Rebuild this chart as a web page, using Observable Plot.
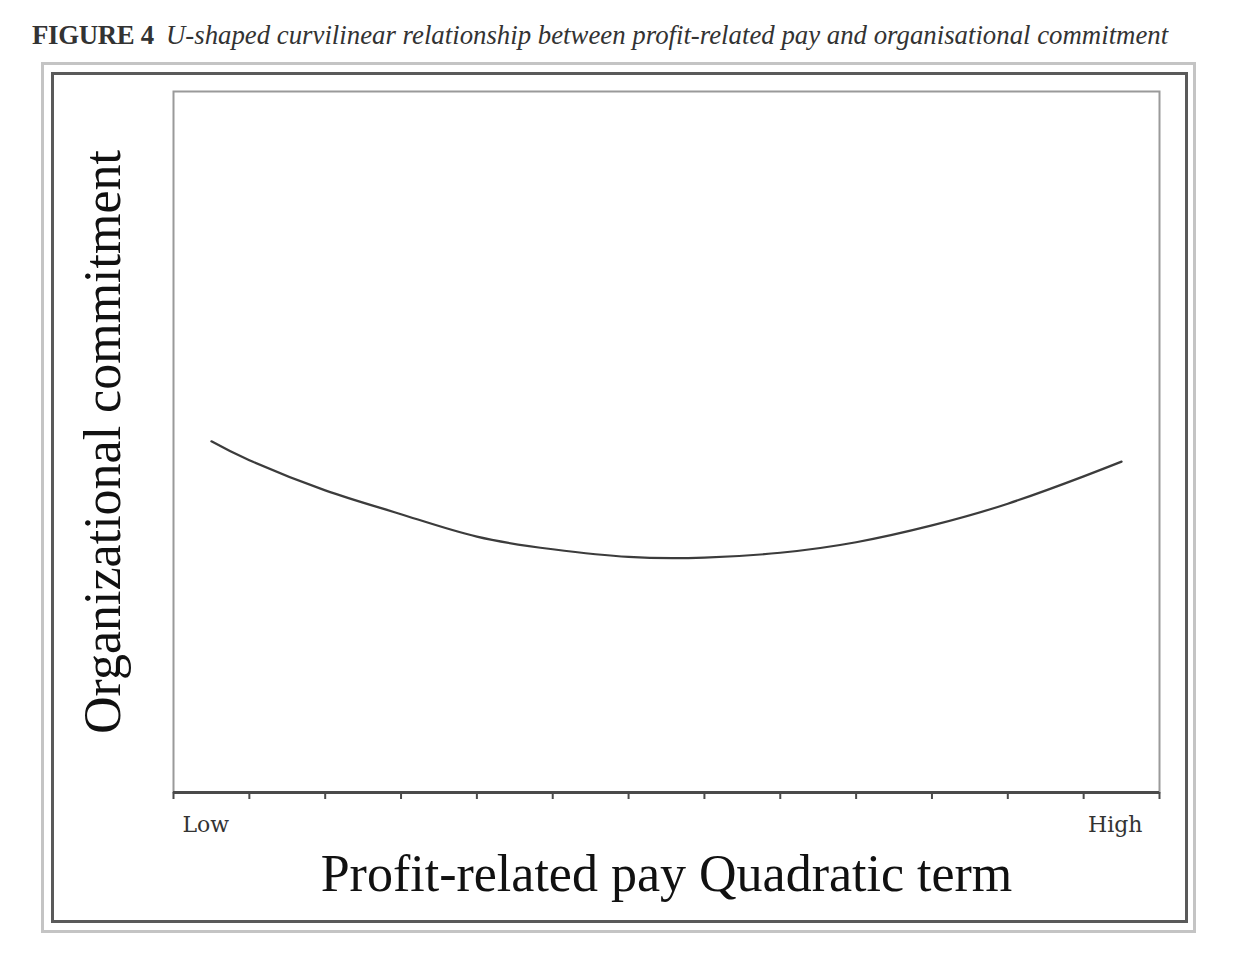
<!DOCTYPE html>
<html>
<head>
<meta charset="utf-8">
<script src="https://cdn.jsdelivr.net/npm/d3@7"></script>
<script src="https://cdn.jsdelivr.net/npm/@observablehq/plot@0.6"></script>
<style>
  html, body { margin: 0; padding: 0; background: #fff; }
  body { position: relative; width: 1236px; height: 954px; overflow: hidden; }
  #title { position: absolute; left: 32px; top: 20px; white-space: nowrap; color: #333;
           font-family: "Liberation Serif", serif; font-size: 26.8px; }
  #title b { font-weight: bold; letter-spacing: -0.3px; margin-right: 12px; }
  #title i { font-style: italic; }
  #outer { position: absolute; left: 41px; top: 62px; width: 1149px; height: 865px;
           border: 3px solid #c4c4c4; }
  #inner { position: absolute; left: 51px; top: 72px; width: 1131px; height: 845px;
           border: 3px solid #5a5a5a; }
  #chart { position: absolute; left: 0; top: 60px; }
</style>
</head>
<body>
<div id="title"><b>FIGURE 4</b><i>U-shaped curvilinear relationship between profit-related pay and organisational commitment</i></div>
<div id="outer"></div>
<div id="inner"></div>
<div id="chart"></div>
<script>
// Data
const curveX = [0.5, 1, 2, 3, 4, 5, 6, 7, 8, 9, 10, 11, 12, 12.5];
const curveY = [50.1, 47.4, 43.1, 39.7, 36.5, 34.7, 33.6, 33.5, 34.2, 35.7, 38.1, 41.2, 45.1, 47.2];
const tickValues = [0, 1, 2, 3, 4, 5, 6, 7, 8, 9, 10, 11, 12, 13];
const lowLabel = ["Low"];
const highLabel = ["High"];
const lowPos = [0];
const highPos = [13];
const xTitle = ["Profit-related pay Quadratic term"];
const yTitle = ["Organizational commitment"];

const curve = curveX.map((x, i) => ({x, y: curveY[i]}));

const chart = Plot.plot({
  width: 1236,
  height: 894,
  marginLeft: 173,
  marginRight: 77,
  marginTop: 31,
  marginBottom: 162,
  style: {background: "transparent", fontFamily: "Liberation Serif", overflow: "visible"},
  x: {domain: [0, 13], axis: null},
  y: {domain: [0, 100], axis: null},
  marks: [
    Plot.frame({stroke: "#9a9a9a", strokeWidth: 2}),
    Plot.axisX({ticks: tickValues, tickSize: 7, tickFormat: () => "", stroke: "#4a4a4a", strokeWidth: 2, label: null}),
    Plot.ruleY([0], {stroke: "#4a4a4a", strokeWidth: 3}),
    Plot.line(curve, {x: "x", y: "y", curve: "natural", stroke: "#3c3c3c", strokeWidth: 2.2}),
    Plot.text(lowLabel, {x: (d, i) => lowPos[i], text: d => d, frameAnchor: "bottom", dy: 39, dx: 9, textAnchor: "start",
      fontFamily: "DejaVu Serif", fontSize: 22, fill: "#333"}),
    Plot.text(highLabel, {x: (d, i) => highPos[i], text: d => d, frameAnchor: "bottom", dy: 39, dx: -17, textAnchor: "end",
      fontFamily: "DejaVu Serif", fontSize: 22, fill: "#333"}),
    Plot.text(xTitle, {text: d => d, frameAnchor: "bottom", dy: 98, fontFamily: "Liberation Serif", fontSize: 52, fill: "#111"}),
    Plot.text(yTitle, {text: d => d, frameAnchor: "left", textAnchor: "middle", dx: -70, rotate: -90, fontFamily: "Liberation Serif", fontSize: 52, fill: "#111"})
  ]
});
document.getElementById("chart").appendChild(chart);
</script>
</body>
</html>
